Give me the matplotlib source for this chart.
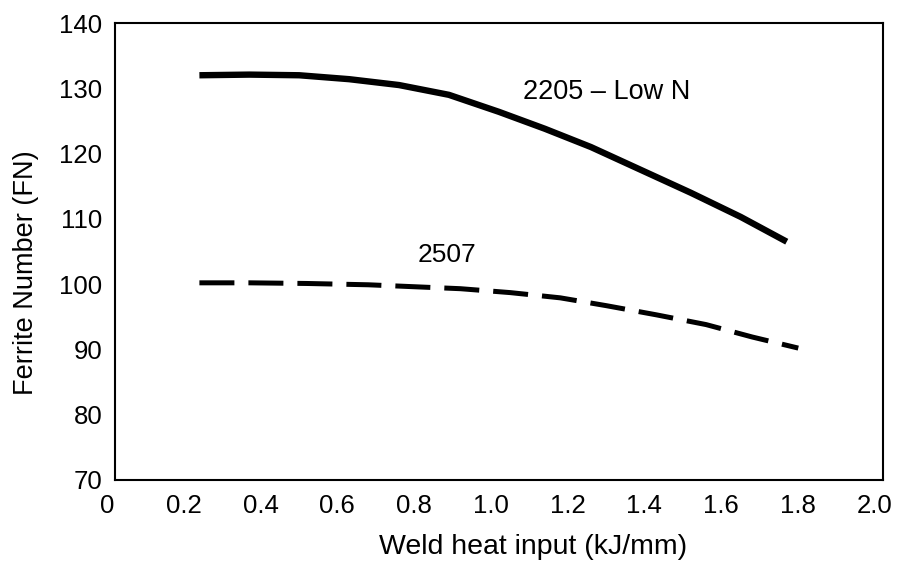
import matplotlib
matplotlib.use('Agg')
import matplotlib.pyplot as plt
import matplotlib.transforms as mtransforms

plt.rcParams['font.family'] = ['Liberation Sans', 'DejaVu Sans']

# Ferrite number vs weld heat input
heat_2205 = [0.22, 0.35, 0.48, 0.61, 0.74, 0.87, 1.00, 1.12, 1.24, 1.37, 1.50, 1.63, 1.75]
fn_2205 = [132.0, 132.1, 132.0, 131.4, 130.5, 129.0, 126.4, 123.8, 121.0, 117.5, 114.0, 110.3, 106.5]

heat_2507 = [0.22, 0.35, 0.50, 0.66, 0.78, 0.90, 1.03, 1.16, 1.28, 1.41, 1.54, 1.66, 1.78]
fn_2507 = [100.2, 100.2, 100.1, 99.9, 99.6, 99.3, 98.7, 97.9, 96.7, 95.3, 93.8, 91.9, 90.2]

x_ticks = [0, 0.2, 0.4, 0.6, 0.8, 1.0, 1.2, 1.4, 1.6, 1.8, 2.0]
x_labels = ['0', '0.2', '0.4', '0.6', '0.8', '1.0', '1.2', '1.4', '1.6', '1.8', '2.0']
y_ticks = [70, 80, 90, 100, 110, 120, 130, 140]

fig = plt.figure(figsize=(8.98, 5.62), dpi=100)
ax = fig.add_axes([0.128, 0.146, 0.855, 0.813])

ax.plot(heat_2205, fn_2205, color='black', lw=4.6, solid_capstyle='butt',
        solid_joinstyle='round')
line, = ax.plot(heat_2507, fn_2507, color='black', lw=3.6, dash_capstyle='butt',
                dash_joinstyle='round')
line.set_dashes((7, 2.8))

ax.text(1.28, 129.4, '2205 \u2013 Low N', fontsize=19.5, ha='center', va='center')
ax.text(0.865, 104.5, '2507', fontsize=19, ha='center', va='center')

ax.set_xlim(0, 2.0)
ax.set_ylim(70, 140)
ax.set_xticks(x_ticks)
ax.set_xticklabels(x_labels)
ax.set_yticks(y_ticks)
ax.tick_params(length=0, labelsize=18.5)
ax.tick_params(axis='x', pad=10)
ax.tick_params(axis='y', pad=9)

# the scanned x tick labels sit a little left of their positions
shift = mtransforms.ScaledTranslation(-0.08, 0, fig.dpi_scale_trans)
for lab in ax.get_xticklabels():
    lab.set_transform(lab.get_transform() + shift)

for s in ax.spines.values():
    s.set_linewidth(1.5)

ax.set_xlabel('Weld heat input (kJ/mm)', fontsize=20.5)
ax.xaxis.set_label_coords(0.544, -0.118)
ax.set_ylabel('Ferrite Number (FN)', fontsize=19.5)
ax.yaxis.set_label_coords(-0.099, 0.453)

fig.savefig('out.png', dpi=100)
